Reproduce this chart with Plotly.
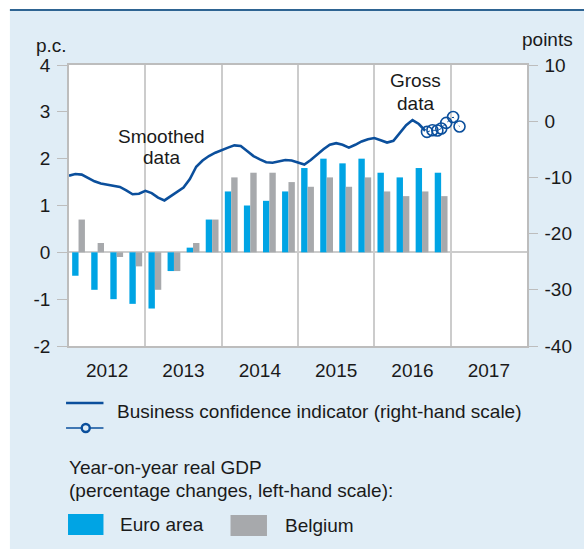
import plotly.graph_objects as go

# ---------------- data ----------------
quarters = [f"{y}Q{q}" for y in range(2012, 2017) for q in range(1, 5)]
euro_area = [-0.5, -0.8, -1.0, -1.1,
             -1.2, -0.4, 0.1, 0.7,
             1.3, 1.0, 1.1, 1.3,
             1.8, 2.0, 1.9, 2.0,
             1.7, 1.6, 1.8, 1.7]
belgium = [0.7, 0.2, -0.1, -0.3,
           -0.8, -0.4, 0.2, 0.7,
           1.6, 1.7, 1.7, 1.5,
           1.4, 1.6, 1.4, 1.6,
           1.3, 1.2, 1.3, 1.2]

# smoothed business confidence indicator, monthly Jan 2012 - Sep 2016
smoothed_months = [f"{2012 + k // 12}-{k % 12 + 1:02d}" for k in range(57)]
smoothed = [-9.7, -9.4, -9.5, -10.1, -10.7, -11.1, -11.3, -11.5, -11.7, -12.3, -13.0, -12.9,
            -12.4, -12.8, -13.6, -14.1, -13.3, -12.5, -11.8, -10.3, -8.1, -7.0, -6.2, -5.6,
            -5.1, -4.7, -4.3, -4.4, -5.3, -6.2, -6.8, -7.3, -7.4, -7.1, -6.9, -7.0,
            -7.4, -7.7, -6.9, -5.9, -5.0, -4.2, -3.9, -4.2, -4.7, -4.2, -3.6, -3.2,
            -3.0, -3.4, -3.8, -3.5, -2.2, -0.7, 0.2, -0.5, -1.7]

# gross data (positions read in fractional years)
gross_x = [2016.690, 2016.761, 2016.826, 2016.877, 2016.942, 2017.032, 2017.116]
gross = [-1.9, -1.6, -1.65, -1.3, -0.3, 0.75, -0.95]

years = ["2012", "2013", "2014", "2015", "2016", "2017"]
left_ticks = [-2, -1, 0, 1, 2, 3, 4]
right_ticks = [-40, -30, -20, -10, 0, 10]

# ---------------- helpers ----------------
def q_pos(label):
    y, q = int(label[:4]), int(label[-1])
    return y + (q - 0.5) / 4

def m_pos(label):
    y, m = int(label[:4]), int(label[5:])
    return y + (m - 1) / 12

W, H = 584, 549
L, T = 69, 65
PW, PH = 465, 281
R = W - L - PW
B = H - T - PH

# convert page pixel coordinates to paper coordinates
def px(x):
    return (x - L) / PW

def py(y):
    return (T + PH - y) / PH

FONT = "Liberation Sans, Arial, sans-serif"
FS = 19
TXT = "#1a1a1a"
LINE = "#0B4F9C"
EURO = "#00A4E4"
BEL = "#A7A9AC"
AX = "#BDBDBD"
BG = "#E0EDF6"

qx = [q_pos(q) for q in quarters]
mx = [m_pos(m) for m in smoothed_months]

fig = go.Figure()
fig.add_trace(go.Bar(x=qx, y=euro_area, marker_color=EURO, marker_line_width=0, name="Euro area"))
fig.add_trace(go.Bar(x=qx, y=belgium, marker_color=BEL, marker_line_width=0, name="Belgium"))
fig.add_trace(go.Scatter(x=mx, y=smoothed, mode="lines", yaxis="y2",
                         line=dict(color=LINE, width=2.6), name="Smoothed"))
fig.add_trace(go.Scatter(x=gross_x, y=gross, mode="lines+markers", yaxis="y2",
                         line=dict(color=LINE, width=1, dash="dot"),
                         marker=dict(symbol="circle-open", size=11, color=LINE,
                                     line=dict(color=LINE, width=1.6)),
                         name="Gross"))

shapes = []
# outer background pieces
shapes.append(dict(type="rect", xref="paper", yref="paper", x0=px(-5), x1=px(600),
                   y0=py(10), y1=py(-5), fillcolor="white", line_width=0, layer="below"))
shapes.append(dict(type="rect", xref="paper", yref="paper", x0=px(-5), x1=px(9),
                   y0=py(560), y1=py(-5), fillcolor="white", line_width=0, layer="below"))
shapes.append(dict(type="line", xref="paper", yref="paper", x0=px(9), x1=px(600),
                   y0=py(10), y1=py(10), line=dict(color="#2E6492", width=2)))

# legend: line sample
shapes.append(dict(type="line", xref="paper", yref="paper", x0=px(66), x1=px(104),
                   y0=py(403), y1=py(403), line=dict(color=LINE, width=2.6)))
shapes.append(dict(type="line", xref="paper", yref="paper", x0=px(66), x1=px(104),
                   y0=py(428), y1=py(428), line=dict(color=LINE, width=1.3)))
shapes.append(dict(type="circle", xref="paper", yref="paper", xsizemode="pixel", ysizemode="pixel",
                   xanchor=px(86), yanchor=py(428), x0=-4, x1=4, y0=-4, y1=4,
                   fillcolor=BG, line=dict(color=LINE, width=2.4)))
# legend: boxes
shapes.append(dict(type="rect", xref="paper", yref="paper", x0=px(68), x1=px(104),
                   y0=py(535), y1=py(514), fillcolor=EURO, line_width=0))
shapes.append(dict(type="rect", xref="paper", yref="paper", x0=px(233), x1=px(270),
                   y0=py(536), y1=py(515), fillcolor=BEL, line_width=0))

def ann(text, x, y, xanchor="left", size=FS):
    return dict(text=text, xref="paper", yref="paper", x=px(x), y=py(y), xanchor=xanchor,
                yanchor="middle", showarrow=False, font=dict(family=FONT, size=size, color=TXT))

annotations = [
    ann("p.c.", 51, 45, "center"),
    ann("points", 555, 40, "center"),
    ann("Smoothed", 163, 136, "center"),
    ann("data", 163, 157, "center"),
    ann("Gross", 421, 80, "center"),
    ann("data", 421, 103, "center"),
    ann("Business confidence indicator (right-hand scale)", 116, 411),
    ann("Year-on-year real GDP", 67, 467),
    ann("(percentage changes, left-hand scale):", 67, 490),
    ann("Euro area", 119, 524),
    ann("Belgium", 286, 525),
]

fig.update_layout(
    width=W, height=H,
    margin=dict(l=L, r=R, t=T, b=B, pad=0),
    paper_bgcolor=BG, plot_bgcolor="white",
    barmode="group", bargap=0.33, bargroupgap=0,
    showlegend=False,
    font=dict(family=FONT, size=FS, color=TXT),
    xaxis=dict(range=[2012, 2018], tickvals=[2012.5 + i for i in range(6)], ticktext=years,
               ticks="", showgrid=False, zeroline=False, showline=True, mirror=True,
               linecolor=AX, linewidth=1.5, ticklabelstandoff=6,
               minor=dict(tickvals=[2013, 2014, 2015, 2016, 2017], showgrid=True,
                          gridcolor="#CCCCCC", gridwidth=1.5, ticks="")),
    yaxis=dict(range=[-2, 4], tickvals=left_ticks, ticktext=[str(v) for v in left_ticks],
               ticks="outside", ticklen=10,
               tickcolor=AX, tickwidth=1.2, showline=True, linecolor=AX, linewidth=1.5,
               showgrid=False, zeroline=True, zerolinecolor="#CCCCCC", zerolinewidth=1.5,
               ticklabelstandoff=3),
    yaxis2=dict(range=[-40, 10], tickvals=right_ticks, ticktext=[str(v) for v in right_ticks],
                overlaying="y", side="right",
                ticks="outside", ticklen=9, tickcolor=AX, tickwidth=1.2, showline=True,
                linecolor=AX, linewidth=1.5, showgrid=False, zeroline=False,
                ticklabelstandoff=3),
    shapes=shapes,
    annotations=annotations,
)

fig.write_html("out.html", config={"displayModeBar": False},
               post_script="document.body.style.margin='0';document.body.style.overflow='hidden';")
